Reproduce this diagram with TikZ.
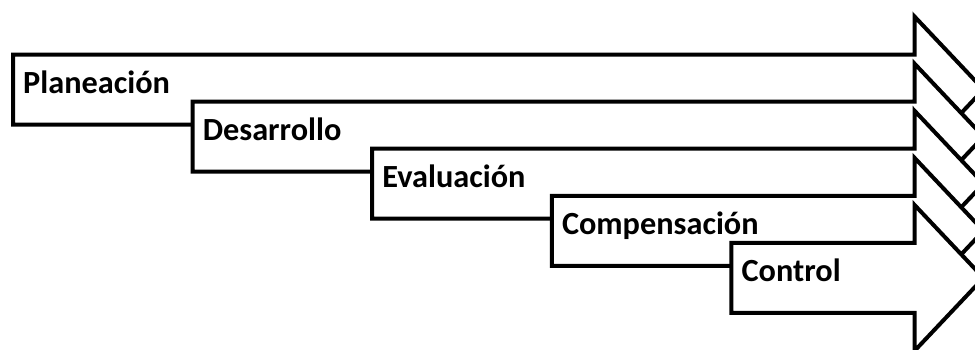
\documentclass[tikz,border=0pt]{standalone}
\usepackage{fontspec}
\setmainfont{Carlito}
\begin{document}
\begin{tikzpicture}[x=1pt,y=-1pt,
  stage/.style={draw=black, fill=white, line width=4pt, line join=miter},
  stagelabel/.style={font=\bfseries\fontsize{32.3}{38}\selectfont, inner sep=0pt, anchor=base west}]
\useasboundingbox (0,0) rectangle (975,349);
\clip (0,0) rectangle (975,349);
% x position of the base of every arrow head
\def\headx{914.5}
\foreach \i/\name/\txt in {0/plan/Planeación, 1/desa/Desarrollo, 2/eval/Evaluación, 3/comp/Compensación, 4/ctrl/Control} {
  \pgfmathsetmacro\lx{13+179.6*\i}
  \pgfmathsetmacro\ty{54.5+47.1*\i}
  \pgfmathsetmacro\by{\ty+70}
  \pgfmathsetmacro\cy{\ty+35}
  % block arrow: body plus triangular head
  \draw[stage] (\lx,\ty) -- (\headx,\ty) -- (\headx,\cy-73) -- (\headx+69,\cy)
    -- (\headx,\cy+73) -- (\headx,\by) -- (\lx,\by) -- cycle;
  \node[stagelabel] (\name) at (\lx+10,\ty+38.8) {\txt};
}
\end{tikzpicture}
\end{document}
